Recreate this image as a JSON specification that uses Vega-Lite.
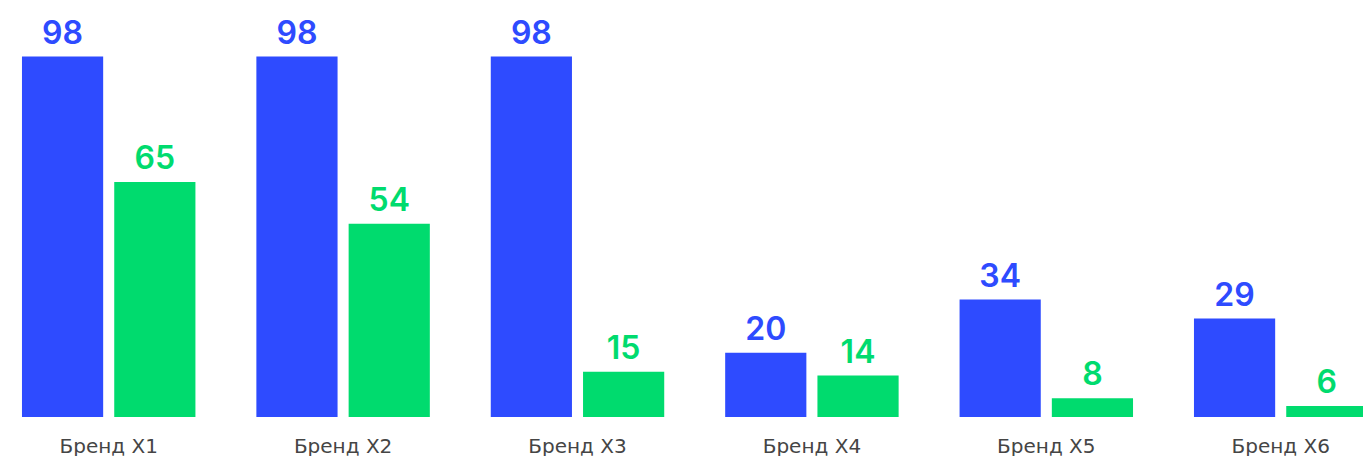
{
  "$schema": "https://vega.github.io/schema/vega-lite/v6.json",
  "width": 1363,
  "height": 456,
  "autosize": {"type": "fit", "contains": "padding"},
  "padding": 0,
  "background": "white",
  "config": {"view": {"stroke": null}},
  "data": {"values": [
    {"brand": "Бренд X1", "series": "A", "value": 98},
    {"brand": "Бренд X1", "series": "B", "value": 65},
    {"brand": "Бренд X2", "series": "A", "value": 98},
    {"brand": "Бренд X2", "series": "B", "value": 54},
    {"brand": "Бренд X3", "series": "A", "value": 98},
    {"brand": "Бренд X3", "series": "B", "value": 15},
    {"brand": "Бренд X4", "series": "A", "value": 20},
    {"brand": "Бренд X4", "series": "B", "value": 14},
    {"brand": "Бренд X5", "series": "A", "value": 34},
    {"brand": "Бренд X5", "series": "B", "value": 8},
    {"brand": "Бренд X6", "series": "A", "value": 29},
    {"brand": "Бренд X6", "series": "B", "value": 6}
  ]},
  "encoding": {
    "x": {
      "field": "brand", "type": "nominal", "sort": null,
      "scale": {"range": [-8.5, 1397.9], "paddingInner": 0.26, "paddingOuter": 0.13},
      "axis": {"title": null, "domain": false, "ticks": false, "labelAngle": 0,
               "labelFont": "DejaVu Sans", "labelFontSize": 20, "labelColor": "#454545",
               "labelPadding": 19, "minExtent": 39, "maxExtent": 39}
    },
    "xOffset": {"field": "series", "type": "nominal", "scale": {"paddingInner": 0.12, "paddingOuter": 0}},
    "y": {
      "field": "value", "type": "quantitative",
      "scale": {"domain": [3.09, 112.9], "zero": false, "nice": false},
      "axis": null
    },
    "color": {
      "field": "series", "type": "nominal",
      "scale": {"domain": ["A", "B"], "range": ["#2E4BFF", "#00DB6E"]},
      "legend": null
    }
  },
  "layer": [
    {"mark": {"type": "bar", "clip": false},
     "encoding": {"y2": {"datum": 3.09}}},
    {"mark": {"type": "text", "font": "Inter", "fontSize": 32, "fontWeight": 600, "baseline": "alphabetic", "dy": -13},
     "encoding": {"text": {"field": "value", "type": "quantitative"}}}
  ]
}
